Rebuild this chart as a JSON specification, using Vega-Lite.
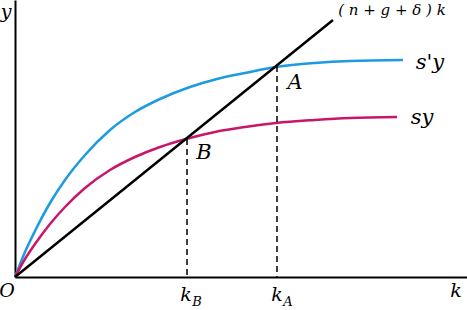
{
  "$schema": "https://vega.github.io/schema/vega-lite/v6.json",
  "width": 452,
  "height": 277,
  "autosize": {"type": "none"},
  "padding": {"left": 15, "top": 0, "right": 0, "bottom": 33},
  "background": "white",
  "config": {
    "view": {"stroke": null},
    "axis": {"domain": true, "ticks": false, "labels": false, "grid": false, "title": null, "domainColor": "black", "domainWidth": 2},
    "text": {"font": "DejaVu Serif", "fontStyle": "italic", "color": "black", "align": "center", "baseline": "middle"}
  },
  "layer": [
    {
      "data": {"values": [
        {"k": 0, "y": 0, "series": "s'y"},
        {"k": 10, "y": 25, "series": "s'y"},
        {"k": 20, "y": 46, "series": "s'y"},
        {"k": 35, "y": 74, "series": "s'y"},
        {"k": 50, "y": 97, "series": "s'y"},
        {"k": 70, "y": 122, "series": "s'y"},
        {"k": 95, "y": 147, "series": "s'y"},
        {"k": 120, "y": 165, "series": "s'y"},
        {"k": 145, "y": 178, "series": "s'y"},
        {"k": 175, "y": 190, "series": "s'y"},
        {"k": 202, "y": 198, "series": "s'y"},
        {"k": 230, "y": 204, "series": "s'y"},
        {"k": 261, "y": 210, "series": "s'y"},
        {"k": 300, "y": 214, "series": "s'y"},
        {"k": 335, "y": 216, "series": "s'y"},
        {"k": 388, "y": 217, "series": "s'y"},
        {"k": 0, "y": 0, "series": "sy"},
        {"k": 10, "y": 18, "series": "sy"},
        {"k": 20, "y": 33, "series": "sy"},
        {"k": 35, "y": 53, "series": "sy"},
        {"k": 50, "y": 70, "series": "sy"},
        {"k": 70, "y": 89, "series": "sy"},
        {"k": 95, "y": 107, "series": "sy"},
        {"k": 120, "y": 120, "series": "sy"},
        {"k": 145, "y": 130, "series": "sy"},
        {"k": 171, "y": 138, "series": "sy"},
        {"k": 200, "y": 145, "series": "sy"},
        {"k": 230, "y": 150, "series": "sy"},
        {"k": 261, "y": 154, "series": "sy"},
        {"k": 300, "y": 157, "series": "sy"},
        {"k": 335, "y": 159, "series": "sy"},
        {"k": 382, "y": 160, "series": "sy"},
        {"k": 0, "y": 0, "series": "line"},
        {"k": 318, "y": 257, "series": "line"}
      ]},
      "mark": {"type": "line", "strokeWidth": 2.5, "interpolate": "monotone"},
      "encoding": {
        "x": {"field": "k", "type": "quantitative", "scale": {"domain": [0, 452], "nice": false, "zero": false}},
        "y": {"field": "y", "type": "quantitative", "scale": {"domain": [0, 277], "nice": false, "zero": false}},
        "color": {"field": "series", "type": "nominal", "legend": null,
          "scale": {"domain": ["s'y", "sy", "line"], "range": ["#1C9BE2", "#C8176B", "#000000"]}}
      }
    },
    {
      "data": {"values": [{"k": 172, "top": 138}, {"k": 262, "top": 211}]},
      "mark": {"type": "rule", "color": "black", "strokeWidth": 1.5, "strokeDash": [6, 4]},
      "encoding": {
        "x": {"field": "k", "type": "quantitative"},
        "y": {"field": "top", "type": "quantitative"},
        "y2": {"datum": 0}
      }
    },
    {
      "data": {"values": [
        {"label": "A", "k": 280, "y": 194},
        {"label": "B", "k": 189, "y": 124},
        {"label": "s'y", "k": 415, "y": 214},
        {"label": "sy", "k": 407, "y": 159}
      ]},
      "mark": {"type": "text", "fontSize": 21},
      "encoding": {
        "x": {"field": "k", "type": "quantitative"},
        "y": {"field": "y", "type": "quantitative"},
        "text": {"field": "label", "type": "nominal"}
      }
    },
    {
      "data": {"values": [
        {"label": "y", "k": -9, "y": 265},
        {"label": "O", "k": -8, "y": -14},
        {"label": "k", "k": 441, "y": -14},
        {"label": "k", "k": 171, "y": -18},
        {"label": "k", "k": 262, "y": -18}
      ]},
      "mark": {"type": "text", "fontSize": 19},
      "encoding": {
        "x": {"field": "k", "type": "quantitative"},
        "y": {"field": "y", "type": "quantitative"},
        "text": {"field": "label", "type": "nominal"}
      }
    },
    {
      "data": {"values": [
        {"label": "B", "k": 182, "y": -25},
        {"label": "A", "k": 273, "y": -25}
      ]},
      "mark": {"type": "text", "fontSize": 13},
      "encoding": {
        "x": {"field": "k", "type": "quantitative"},
        "y": {"field": "y", "type": "quantitative"},
        "text": {"field": "label", "type": "nominal"}
      }
    },
    {
      "data": {"values": [{"label": "( n + g + δ ) k", "k": 377, "y": 267}]},
      "mark": {"type": "text", "fontSize": 15},
      "encoding": {
        "x": {"field": "k", "type": "quantitative"},
        "y": {"field": "y", "type": "quantitative"},
        "text": {"field": "label", "type": "nominal"}
      }
    }
  ]
}
